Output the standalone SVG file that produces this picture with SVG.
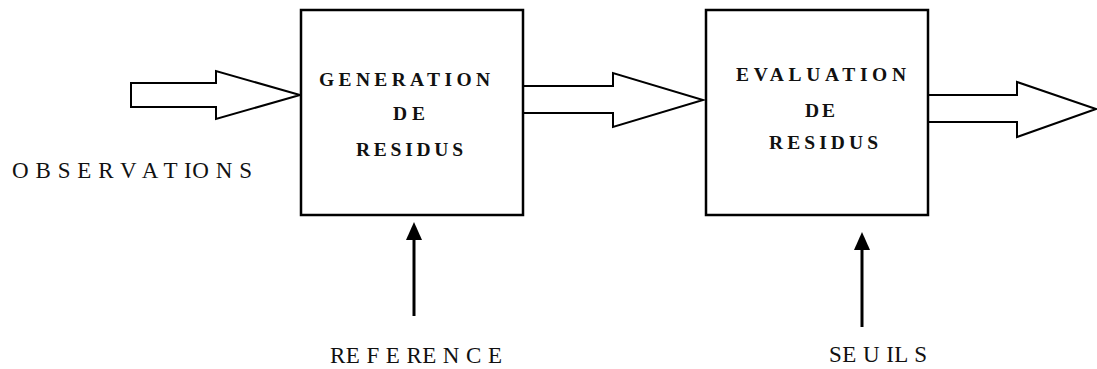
<svg xmlns="http://www.w3.org/2000/svg" width="1097" height="369" viewBox="0 0 1097 369">
  <style>
    .box { fill: #ffffff; stroke: #000000; stroke-width: 2.5; }
    .block { fill: #ffffff; stroke: #000000; stroke-width: 2; stroke-linejoin: miter; }
    .feed { stroke: #000000; stroke-width: 3; fill: none; }
    .title { font-family: "Liberation Serif", "Times New Roman", serif; font-weight: bold; font-size: 19.5px; fill: #111111; }
    .label { font-family: "Liberation Serif", "Times New Roman", serif; font-size: 23px; fill: #111111; }
  </style>
  <defs>
    <marker id="head" viewBox="0 0 18 16" refX="2" refY="8" markerWidth="18" markerHeight="16" markerUnits="userSpaceOnUse" orient="auto">
      <path d="M0,0 L18,8 L0,16 z" fill="#000000"/>
    </marker>
  </defs>
  <rect width="1097" height="369" fill="#ffffff"/>

  <g id="connectors">
    <!-- block arrows carrying the signal through the chain -->
    <polygon class="block" points="131,83 216,83 216,71 300,95 216,119 216,107 131,107"/>
    <polygon class="block" points="523,86 613,86 613,73 703,100 613,127 613,113 523,113"/>
    <polygon class="block" points="928,95 1017,95 1017,82 1096,109 1017,137 1017,122 928,122"/>
    <!-- feed arrows from below -->
    <line class="feed" x1="414" y1="316" x2="414" y2="238" marker-end="url(#head)"/>
    <line class="feed" x1="862" y1="327" x2="862" y2="248" marker-end="url(#head)"/>
  </g>

  <g id="generation">
    <rect class="box" x="301" y="10" width="222" height="205"/>
    <text class="title" x="319" y="86" textLength="171" lengthAdjust="spacing">GENERATION</text>
    <text class="title" x="393" y="120" textLength="32" lengthAdjust="spacing">DE</text>
    <text class="title" x="356" y="156" textLength="107" lengthAdjust="spacing">RESIDUS</text>
  </g>

  <g id="evaluation">
    <rect class="box" x="706" y="10" width="222" height="205"/>
    <text class="title" x="736" y="81" textLength="170" lengthAdjust="spacing">EVALUATION</text>
    <text class="title" x="805" y="117" textLength="30" lengthAdjust="spacing">DE</text>
    <text class="title" x="769" y="149" textLength="109" lengthAdjust="spacing">RESIDUS</text>
  </g>

  <g id="observations">
    <text class="label" x="12" y="178" textLength="240" lengthAdjust="spacing">O B S E R V A T IO N S</text>
  </g>

  <g id="reference">
    <text class="label" x="330" y="363" textLength="172" lengthAdjust="spacing">RE F E RE N C E</text>
  </g>

  <g id="seuils">
    <text class="label" x="829" y="362" textLength="98" lengthAdjust="spacing">SE U IL S</text>
  </g>
</svg>
